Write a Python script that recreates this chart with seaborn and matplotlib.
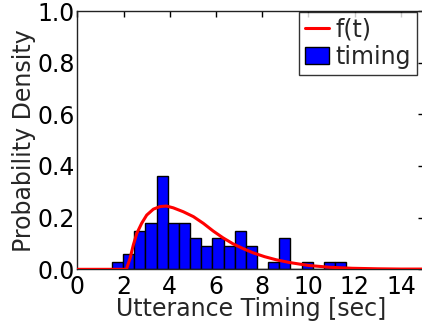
import numpy as np
import pandas as pd
import matplotlib
matplotlib.use("Agg")
import matplotlib.pyplot as plt
import seaborn as sns

# Histogram (density)
bin_start = 1.5
bin_width = 0.4825
densities = [0.03, 0.06, 0.15, 0.18, 0.36, 0.18, 0.18, 0.12, 0.09, 0.12, 0.09,
             0.15, 0.09, 0.0, 0.03, 0.12, 0.0, 0.03, 0.0, 0.03, 0.03]

# Fitted curve f(t)
t_vals = [0, 2.12, 2.28, 2.42, 2.57, 2.78, 3.0, 3.29, 3.58, 3.85, 4.15, 4.58,
          5.02, 5.45, 5.88, 6.3, 6.75, 7.2, 7.6, 8.1, 8.6, 9.2, 10.0, 10.9,
          11.9, 13.0, 14.0, 15.0]
f_vals = [0, 0, 0.043, 0.094, 0.139, 0.178, 0.21, 0.233, 0.243, 0.245, 0.238,
          0.223, 0.204, 0.178, 0.148, 0.122, 0.098, 0.079, 0.064, 0.049, 0.037,
          0.026, 0.015, 0.008, 0.004, 0.002, 0.001, 0.001]

x_ticks = [0, 2, 4, 6, 8, 10, 12, 14]
y_ticks = [0.0, 0.2, 0.4, 0.6, 0.8, 1.0]

sns.set_style("white")
plt.rcParams['font.family'] = ['DejaVu Sans']

fig = plt.figure(figsize=(4.22, 3.21), dpi=100)
ax = fig.add_axes([0.1834, 0.161, 0.8213, 0.8047])

n_bins = len(densities)
centers = [bin_start + bin_width * (i + 0.5) for i in range(n_bins)]
hist_df = pd.DataFrame({"t": centers, "w": densities})
sns.histplot(data=hist_df, x="t", weights="w", binwidth=bin_width,
             binrange=(bin_start, bin_start + bin_width * n_bins), stat="count",
             color="#0000ff", edgecolor="black", linewidth=1.0, alpha=1.0,
             ax=ax, label="timing", zorder=2)

line_df = pd.DataFrame({"t": t_vals, "f": f_vals})
sns.lineplot(data=line_df, x="t", y="f", color="red", linewidth=2.2,
             ax=ax, label="f(t)", zorder=3)

ax.set_xlim(0, 15)
ax.set_ylim(0, 1.0)
ax.set_xticks(x_ticks)
ax.set_yticks(y_ticks)
ax.set_yticklabels([f"{v:.1f}" for v in y_ticks])
ax.tick_params(direction="in", top=True, right=True, length=4, width=1,
               labelsize=17, colors="black")
ax.tick_params(axis="x", pad=4)
ax.tick_params(axis="y", pad=2)
ax.set_xlabel("Utterance Timing [sec]", fontsize=17, labelpad=-1)
ax.set_ylabel("Probability Density", fontsize=17, labelpad=1)
for s in ax.spines.values():
    s.set_color("#222222")
    s.set_linewidth(1.0)

handles, labels = ax.get_legend_handles_labels()
order = [labels.index("f(t)"), labels.index("timing")]
leg = ax.legend([handles[i] for i in order], [labels[i] for i in order],
                loc="upper right", bbox_to_anchor=(0.98, 0.998), fontsize=17,
                frameon=True, fancybox=False, handlelength=1.0,
                handletextpad=0.3, borderpad=0.25, labelspacing=0.15,
                borderaxespad=0.0)
leg.get_frame().set_edgecolor("black")
leg.get_frame().set_linewidth(1.0)

fig.savefig("out.png", dpi=100)
